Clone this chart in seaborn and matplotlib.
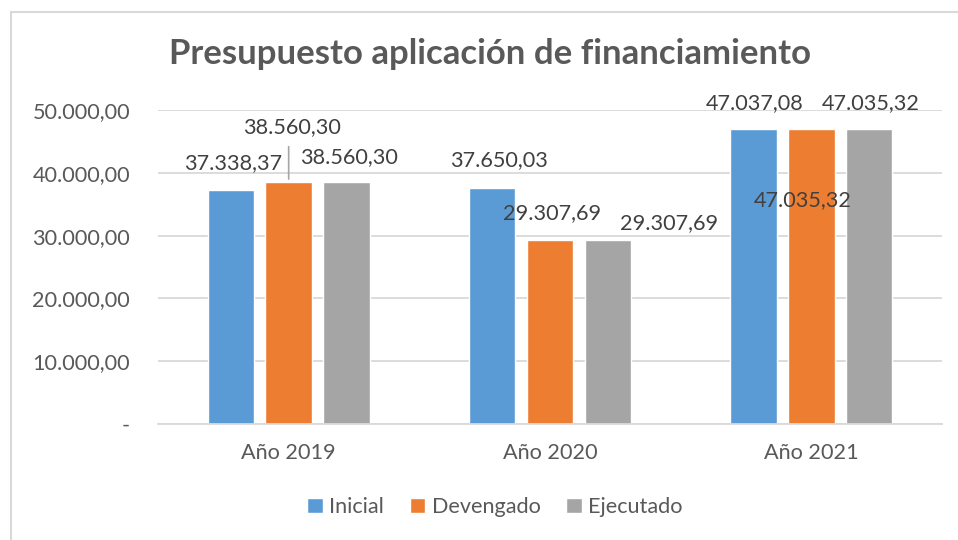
import pandas as pd
import seaborn as sns
import matplotlib.pyplot as plt
from matplotlib.lines import Line2D

# datos del grafico
years = ["Año 2019", "Año 2020", "Año 2021"]
series = ["Inicial", "Devengado", "Ejecutado"]
inicial = [37338.37, 37650.03, 47037.08]
devengado = [38560.30, 29307.69, 47035.32]
ejecutado = [38560.30, 29307.69, 47035.32]
yticks = [0, 10000, 20000, 30000, 40000, 50000]

colors = ["#5B9BD5", "#ED7D31", "#A5A5A5"]
text_color = "#595959"

# desplazamiento de etiquetas (pixeles), como quedaron movidas a mano en Excel
label_offsets = {
    ("Inicial", 0): (2, 26), ("Devengado", 0): (3, 55), ("Ejecutado", 0): (2, 25),
    ("Inicial", 1): (7, 27), ("Devengado", 1): (2, 27), ("Ejecutado", 1): (61, 17),
    ("Inicial", 2): (1, 26), ("Devengado", 2): (-9, -71), ("Ejecutado", 2): (2, 26),
}


def fmt_es(v):
    s = f"{v:,.2f}"
    return s.replace(",", "X").replace(".", ",").replace("X", ".")


df = pd.DataFrame({
    "year": years * 3,
    "serie": [s for s in series for _ in years],
    "valor": inicial + devengado + ejecutado,
})

sns.set_theme(style="white")
plt.rcParams["font.family"] = ["Lato", "DejaVu Sans"]

fig = plt.figure(figsize=(9.58, 5.4), dpi=100)
ax = fig.add_axes([158 / 958, 1 - 424 / 540, (942 - 158) / 958, (424 - 110) / 540])

sns.barplot(data=df, x="year", y="valor", hue="serie", hue_order=series,
            palette=colors, width=0.665, gap=0.2, ax=ax, legend=True,
            saturation=1, errorbar=None)

ax.set_xlim(-0.5, 2.5)
ax.set_ylim(0, 50000)
ax.set_yticks(yticks)
ax.set_yticklabels(["-"] + [fmt_es(v) for v in yticks[1:]])
ax.yaxis.grid(True, color="#D9D9D9", linewidth=1.3)
ax.set_axisbelow(True)
for side in ["top", "right", "left"]:
    ax.spines[side].set_visible(False)
ax.spines["bottom"].set_color("#D9D9D9")
ax.spines["bottom"].set_linewidth(1.3)
ax.tick_params(axis="both", length=0, labelsize=15.6, labelcolor=text_color)
ax.tick_params(axis="y", pad=20)
ax.tick_params(axis="x", pad=14)
ax.set_xlabel("")
ax.set_ylabel("")

# etiquetas de datos
for cont, serie in zip(ax.containers, series):
    for i, bar in enumerate(cont):
        dx, dy = label_offsets[(serie, i)]
        xc = bar.get_x() + bar.get_width() / 2
        top = bar.get_height()
        ax.annotate(fmt_es(top), (xc, top), xytext=(dx, dy),
                    textcoords="offset pixels", ha="center", va="center",
                    fontsize=15.6, color="#404040", annotation_clip=False)
        if serie == "Devengado" and i == 0:
            ax.annotate("", (xc, top), xytext=(0, 38), textcoords="offset pixels",
                        arrowprops=dict(arrowstyle="-", color="#A6A6A6", lw=1.2))

leg = ax.legend(loc="center", ncol=3, frameon=False, fontsize=15.6,
                handlelength=0.7, handleheight=0.7, handletextpad=0.3,
                columnspacing=1.2)
for t in leg.get_texts():
    t.set_color(text_color)
leg.set_bbox_to_anchor((495 / 958, 1 - 507 / 540), transform=fig.transFigure)

fig.text(490 / 958, 1 - 54 / 540, "Presupuesto aplicación de financiamiento",
         ha="center", va="center", fontsize=25, fontweight="bold", color=text_color)

# borde del area del grafico
fig.add_artist(Line2D([10.5 / 958, 1.01], [1 - 11.5 / 540] * 2, transform=fig.transFigure,
                      color="#D9D9D9", lw=1.5))
fig.add_artist(Line2D([10.5 / 958] * 2, [-0.01, 1 - 11.5 / 540], transform=fig.transFigure,
                      color="#D9D9D9", lw=1.5))

fig.savefig("out.png", dpi=100)
